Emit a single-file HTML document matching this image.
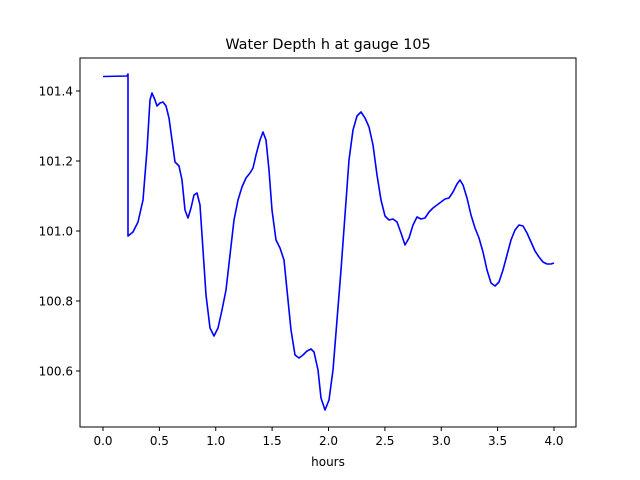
<!DOCTYPE html>
<html><head><meta charset="utf-8"><style>body{margin:0;background:#fff}svg{display:block}text{font-family:"DejaVu Sans","Liberation Sans",sans-serif;fill:#000}</style></head><body>
<svg width="640" height="480" viewBox="0 0 640 480" xmlns="http://www.w3.org/2000/svg">
<rect width="640" height="480" fill="#fff"/>
<text x="328" y="49" font-size="14.4" text-anchor="middle">Water Depth h at gauge 105</text>
<polyline fill="none" stroke="#0000ff" stroke-width="1.6" stroke-linejoin="round" points="103,76.5 127,76 128,74 128,236 133,232 138,222 143,200 147,150 150,100 152,93 155,100 157,106 160,103 163,102 166,106 169,118 172,140 175,162 179,166 182,180 185,210 188,218 191,208 194,195 197,193 200,205 203,250 206,295 210,328 214,336 218,328 222,310 226,290 230,255 234,220 238,200 242,187 246,178 250,173 253,168 256,155 260,140 263,132 266,140 269,170 272,210 276,240 280,248 284,260 287,290 291,330 295,355 299,358 303,355 307,351 311,349 314,352 318,370 321,398 325,410 329,400 333,370 337,320 341,270 345,215 349,160 353,130 357,116 361,112 365,118 369,127 373,145 377,175 381,200 385,216 389,220 393,219 397,222 401,233 405,245 409,238 413,225 417,217 421,219 425,218 429,212 433,208 437,205 441,202 445,199 449,198 453,192 457,184 460,180 463,185 467,198 471,215 475,228 479,238 483,252 487,270 491,283 495,286 499,282 503,270 507,255 511,240 515,230 519,225 523,226 527,233 531,242 535,251 539,257 543,262 547,264 551,264 554,263"/>
<rect x="80" y="58" width="496" height="369" fill="none" stroke="#000" stroke-width="1"/>
<g stroke="#000" stroke-width="1">
<line x1="103" y1="427" x2="103" y2="431"/><line x1="159.4" y1="427" x2="159.4" y2="431"/><line x1="215.75" y1="427" x2="215.75" y2="431"/><line x1="272.1" y1="427" x2="272.1" y2="431"/><line x1="328.5" y1="427" x2="328.5" y2="431"/><line x1="384.9" y1="427" x2="384.9" y2="431"/><line x1="441.25" y1="427" x2="441.25" y2="431"/><line x1="497.6" y1="427" x2="497.6" y2="431"/><line x1="554" y1="427" x2="554" y2="431"/>
<line x1="76" y1="91" x2="80" y2="91"/><line x1="76" y1="161" x2="80" y2="161"/><line x1="76" y1="231" x2="80" y2="231"/><line x1="76" y1="301" x2="80" y2="301"/><line x1="76" y1="371" x2="80" y2="371"/>
</g>
<g font-size="12" text-anchor="middle">
<text x="103" y="445">0.0</text><text x="159.4" y="445">0.5</text><text x="215.75" y="445">1.0</text><text x="272.1" y="445">1.5</text><text x="328.5" y="445">2.0</text><text x="384.9" y="445">2.5</text><text x="441.25" y="445">3.0</text><text x="497.6" y="445">3.5</text><text x="554" y="445">4.0</text>
<text x="328" y="466">hours</text>
</g>
<g font-size="12" text-anchor="end">
<text x="73" y="95.5">101.4</text><text x="73" y="165.5">101.2</text><text x="73" y="235.5">101.0</text><text x="73" y="305.5">100.8</text><text x="73" y="375.5">100.6</text>
</g>
</svg>
</body></html>
